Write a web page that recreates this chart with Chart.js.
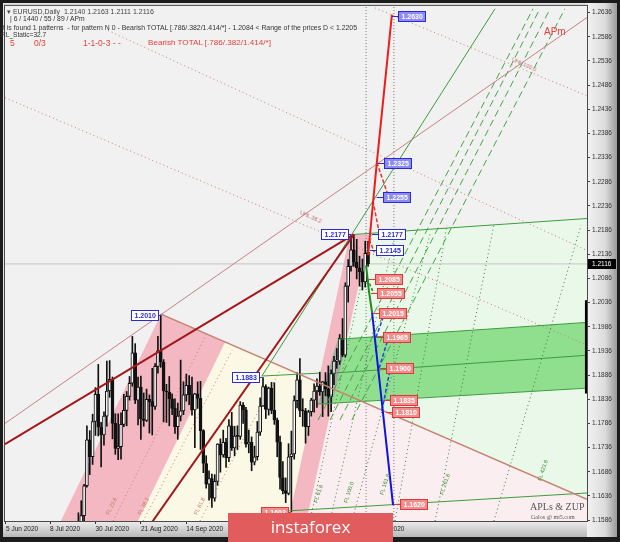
<!DOCTYPE html>
<html>
<head>
<meta charset="utf-8">
<script src="https://cdn.jsdelivr.net/npm/chart.js@4.4.0/dist/chart.umd.min.js"></script>
<style>
body { margin: 0; background: #1b1b1b; }
#wrap { position: relative; width: 620px; height: 542px; overflow: hidden; }
.t { position: absolute; white-space: nowrap; font-family: "Liberation Sans", Arial, sans-serif; line-height: 1; }
.rot { transform-origin: 0 50%; }
#logo { position: absolute; left: 228px; top: 513px; width: 165px; height: 29px; background: #e15c5c;
        color: #fff; font-family: "Open Sans", sans-serif; font-size: 17px; line-height: 28px; text-align: center; }
</style>
</head>
<body>
<div id="wrap">
<canvas id="myChart" width="620" height="542"></canvas>

<div class="t" style="left:7px;top:8px;font-size:7px;color:#444">&#9662; EURUSD,Daily&nbsp;&nbsp;1.2140 1.2163 1.2111 1.2116</div>
<div class="t" style="left:10px;top:16px;font-size:6.8px;color:#333">| 6 / 1440 / 55 / 89 / APm</div>
<div class="t" style="left:1px;top:25px;font-size:6.9px;color:#333">It is found 1 patterns&nbsp; - for pattern N 0 - Bearish TOTAL [.786/.382/1.414/*] - 1.2084 &lt; Range of the prices D &lt; 1.2205</div>
<div class="t" style="left:1px;top:32px;font-size:6.6px;color:#333">RL_Static=32.7</div>
<div class="t" style="left:10px;top:39px;font-size:8.5px;color:#e8403c">5</div>
<div class="t" style="left:34px;top:39px;font-size:8.5px;color:#e8403c">0/3</div>
<div class="t" style="left:83px;top:39px;font-size:8.5px;color:#e8403c">1-1-0-3 - -</div>
<div class="t" style="left:148px;top:39px;font-size:8.1px;color:#e8403c">Bearish TOTAL [.786/.382/1.414/*]</div>
<div class="t" style="left:544px;top:27px;font-size:10px;color:#e8403c">APm</div>

<div class="t rot" style="left:300px;top:210px;font-size:5.5px;color:#c07070;transform:rotate(24deg)">UHL 38.2</div>
<div class="t rot" style="left:512px;top:57px;font-size:5.5px;color:#c07070;transform:rotate(24deg)">UHL 100.0</div>
<div class="t rot" style="left:108px;top:512px;font-size:5.5px;color:#c07a60;transform:rotate(-64deg)">FL 23.6</div>
<div class="t rot" style="left:140px;top:512px;font-size:5.5px;color:#c07a60;transform:rotate(-64deg)">FL 38.2</div>
<div class="t rot" style="left:196px;top:512px;font-size:5.5px;color:#c07a60;transform:rotate(-64deg)">FL 61.8</div>
<div class="t rot" style="left:316px;top:500px;font-size:5.5px;color:#3b8f3b;transform:rotate(-72deg)">FL 61.8</div>
<div class="t rot" style="left:346px;top:500px;font-size:5.5px;color:#3b8f3b;transform:rotate(-72deg)">FL 100.0</div>
<div class="t rot" style="left:382px;top:492px;font-size:5.5px;color:#3b8f3b;transform:rotate(-72deg)">FL 161.8</div>
<div class="t rot" style="left:442px;top:492px;font-size:5.5px;color:#3b8f3b;transform:rotate(-72deg)">FL 261.8</div>
<div class="t rot" style="left:540px;top:478px;font-size:5.5px;color:#3b8f3b;transform:rotate(-72deg)">FL 423.6</div>

<div class="t" style="left:530px;top:502px;font-size:10px;color:#555;font-family:'Liberation Serif',serif">APLs &amp; ZUP</div>
<div class="t" style="left:531px;top:514px;font-size:6px;color:#555;font-family:'Liberation Serif',serif">Galos @ mt5.com</div>
<div id="logo">instaforex</div>
</div>

<script>
// EURUSD daily, one bar per trading day, bar 0 = 8 Jul 2020
var firstBar = 8;
var opens = [1.1427,1.1443,1.1530,1.1568,1.1595,1.1657,1.1752,1.1717,1.1790,1.1846,
             1.1778,1.1762,1.1801,1.1853,1.1877,1.1786,1.1734,1.1738,1.1784,1.1813,
             1.1842,1.1869,1.1932,1.1834,1.1861,1.1795,1.1792,1.1836,1.1831,1.1821,
             1.1904,1.1936,1.1913,1.1853,1.1851,1.1837,1.1817,1.1779,1.1801,1.1812,
             1.1845,1.1865,1.1845,1.1814,1.1847,1.1838,1.1771,1.1703,1.1660,1.1672,
             1.1631,1.1666,1.1743,1.1721,1.1747,1.1715,1.1781,1.1735,1.1760,1.1759,
             1.1824,1.1814,1.1743,1.1747,1.1706,1.1717,1.1768,1.1822,1.1862,1.1815,
             1.1859,1.1813,1.1793,1.1747,1.1674,1.1647,1.1641,1.1717,1.1723,1.1833,
             1.1876,1.1813,1.1812,1.1779,1.1810,1.1834,1.1853,1.1863,1.1851,1.1872,
             1.1857,1.1842,1.1889,1.1915,1.1915,1.1962,1.1927,1.2070,1.2111,1.2145,
             1.2120,1.2108,1.2100,1.2079,1.2140];
var highs = [1.1468,1.1540,1.1601,1.1626,1.1660,1.1781,1.1771,1.1805,1.1860,1.1908,
             1.1788,1.1810,1.1915,1.1916,1.1882,1.1806,1.1806,1.1808,1.1846,1.1852,
             1.1883,1.1966,1.1951,1.1882,1.1884,1.1849,1.1857,1.1845,1.1900,1.1910,
             1.1966,1.2011,1.1918,1.1867,1.1883,1.1847,1.1837,1.1828,1.1917,1.1872,
             1.1888,1.1885,1.1882,1.1848,1.1872,1.1873,1.1773,1.1719,1.1688,1.1681,
             1.1680,1.1744,1.1754,1.1772,1.1755,1.1794,1.1809,1.1780,1.1781,1.1831,
             1.1829,1.1819,1.1772,1.1758,1.1739,1.1790,1.1839,1.1881,1.1866,1.1861,
             1.1871,1.1870,1.1797,1.1760,1.1707,1.1673,1.1744,1.1770,1.1843,1.1891,
             1.1920,1.1837,1.1817,1.1813,1.1838,1.1868,1.1878,1.1892,1.1873,1.1891,
             1.1905,1.1897,1.1925,1.1941,1.1970,1.2003,1.2077,1.2125,1.2175,1.2177,
             1.2167,1.2132,1.2126,1.2163,1.2163];
var lows  = [1.1420,1.1422,1.1510,1.1539,1.1572,1.1654,1.1680,1.1701,1.1761,1.1760,
             1.1696,1.1741,1.1780,1.1840,1.1754,1.1722,1.1711,1.1712,1.1779,1.1781,
             1.1834,1.1863,1.1827,1.1783,1.1753,1.1780,1.1790,1.1766,1.1762,1.1815,
             1.1890,1.1902,1.1789,1.1788,1.1781,1.1804,1.1765,1.1753,1.1791,1.1804,
             1.1832,1.1825,1.1803,1.1736,1.1817,1.1732,1.1684,1.1652,1.1627,1.1612,
             1.1625,1.1658,1.1685,1.1716,1.1695,1.1707,1.1730,1.1719,1.1732,1.1753,
             1.1786,1.1737,1.1725,1.1688,1.1700,1.1710,1.1761,1.1821,1.1796,1.1803,
             1.1806,1.1784,1.1717,1.1650,1.1640,1.1622,1.1638,1.1603,1.1712,1.1818,
             1.1800,1.1780,1.1745,1.1761,1.1801,1.1809,1.1819,1.1844,1.1800,1.1843,
             1.1801,1.1810,1.1866,1.1900,1.1908,1.1924,1.1923,1.2037,1.2101,1.2111,
             1.2085,1.2070,1.2062,1.2068,1.2111];
var closes = [1.1443,1.1530,1.1568,1.1595,1.1657,1.1752,1.1717,1.1790,1.1846,1.1778,
             1.1762,1.1801,1.1853,1.1877,1.1786,1.1734,1.1738,1.1784,1.1813,1.1842,
             1.1869,1.1932,1.1834,1.1861,1.1795,1.1792,1.1836,1.1831,1.1821,1.1904,
             1.1936,1.1913,1.1853,1.1851,1.1837,1.1817,1.1779,1.1801,1.1812,1.1845,
             1.1865,1.1845,1.1814,1.1847,1.1838,1.1771,1.1703,1.1660,1.1672,1.1631,
             1.1666,1.1743,1.1721,1.1747,1.1715,1.1781,1.1735,1.1760,1.1759,1.1824,
             1.1814,1.1743,1.1747,1.1706,1.1717,1.1768,1.1822,1.1862,1.1815,1.1859,
             1.1813,1.1793,1.1747,1.1674,1.1647,1.1641,1.1717,1.1723,1.1833,1.1876,
             1.1813,1.1812,1.1779,1.1810,1.1834,1.1853,1.1863,1.1851,1.1872,1.1857,
             1.1842,1.1889,1.1915,1.1915,1.1962,1.1927,1.2070,1.2111,1.2145,1.2120,
             1.2108,1.2100,1.2079,1.2138,1.2116];

// axis ticks
var yTicks = [1.2636,1.2586,1.2536,1.2486,1.2436,1.2386,1.2336,1.2286,1.2236,1.2186,1.2136,
              1.2086,1.2036,1.1986,1.1936,1.1886,1.1836,1.1786,1.1736,1.1686,1.1636,1.1586];
var xTickBars = [-15.5, 0, 16, 32, 48, 64, 80, 96, 112];
var xTickLabels = ['5 Jun 2020','8 Jul 2020','30 Jul 2020','21 Aug 2020','14 Sep 2020',
                   '6 Oct 2020','28 Oct 2020','19 Nov 2020','11 Dec 2020'];

// shaded zones, corners as [bar, price]
var pinkBand1  = [[3.5,1.1580],[39.1,1.2012],[61.6,1.1954],[30.6,1.1580]];
var creamZone  = [[30.6,1.1580],[61.6,1.1954],[94.7,1.1869],[83.8,1.1580]];
var pinkBand2  = [[83.8,1.1580],[105.6,1.2177],[112.7,1.2177],[90.1,1.1580]];
var greenZone  = [[94.7,1.1869],[106.0,1.2177],[189.1,1.2210],[189.1,1.1629]];
var roseZone   = [[94.7,1.1869],[189.1,1.1629],[189.1,1.1580],[83.8,1.1580]];
var greenBand  = [[94.4,1.1826],[101.4,1.1960],[189.1,1.1995],[189.1,1.1859]];
var overlap    = [[94.4,1.1826],[99.3,1.1826],[104.6,1.1960],[101.4,1.1960]];

// trend lines
var thickLines = [
  [[-15.85,1.1743],[107,1.2177]],
  [[33.0,1.1557],[107,1.2177]]
];
var apmLine    = [[-15.85,1.1786],[189.1,1.2626]];
var fallLine   = [[39.1,1.2012],[189.1,1.1629]];
var greenLines = [
  [[74.6,1.1884],[156.7,1.2644]],
  [[74.6,1.1884],[94.7,1.1890]],
  [[107,1.2177],[189.1,1.2210]],
  [[101.4,1.1960],[189.1,1.1995]],
  [[99.6,1.1890],[189.1,1.1927]],
  [[94.4,1.1826],[189.1,1.1859]],
  [[84.2,1.1605],[189.1,1.1642]]
];
var greenDashed = [
  [[94.4,1.1793],[170.1,1.2644]],
  [[98.6,1.1793],[172.5,1.2644]],
  [[102.1,1.1793],[176.1,1.2644]],
  [[106.3,1.1793],[181.3,1.2644]]
];
var greenDotted = [
  [[91.5,1.1584],[113.4,1.2177]],
  [[98.6,1.1584],[121.5,1.2177]],
  [[106.3,1.1584],[133.8,1.2177]],
  [[121.5,1.1584],[139.8,1.2196]],
  [[135.6,1.1584],[156.3,1.2196]],
  [[156.3,1.1584],[187.0,1.2196]]
];
var roseDotted = [
  [[-15.85,1.2460],[189.1,1.1948]],
  [[20.4,1.2599],[189.1,1.2144]],
  [[114.4,1.2646],[189.1,1.2464]],
  [[22.2,1.1584],[55.3,1.1973]],
  [[32.8,1.1584],[64.1,1.1937]],
  [[52.8,1.1584],[81.0,1.1896]]
];
var timeLines = [
  [[111.3,1.1584],[111.3,1.2650]],
  [[121.1,1.1584],[121.1,1.2650]]
];
var edgeBar = [[188.9,1.2041],[188.9,1.1848]];

// projected pattern
var redPath     = [[112.0,1.2134],[115.1,1.2326],[120.4,1.2632]];
var redDashed   = [
  [[115.1,1.2326],[118.7,1.2264]],
  [[113.7,1.2247],[116.2,1.2173]],
  [[112.4,1.2167],[114.2,1.2140]]
];
var bluePath    = [[113.4,1.2016],[120.8,1.1617]];
var blueDashed  = [
  [[114.8,1.1964],[117.3,1.2005]],
  [[115.9,1.1900],[118.7,1.1954]],
  [[116.9,1.1813],[119.7,1.1896]]
];
var greenPath   = [[111.3,1.2113],[112.3,1.2060],[113.4,1.2016]];
var greenPathDashed = [[[111.8,1.2085],[114.0,1.2055]]];

// price labels: [bar, price, style, side]
var priceLabels = [
  [120.4,1.2630,'blueFill','right'],
  [115.5,1.2325,'blueFill','right'],
  [115.0,1.2255,'blueFill','right'],
  [113.4,1.2177,'blue','right'],
  [112.7,1.2145,'blue','right'],
  [106.0,1.2177,'blue','left'],
  [39.1,1.2010,'blue','left'],
  [74.6,1.1883,'blue','left'],
  [84.9,1.1603,'red','left'],
  [112.3,1.2085,'red','right'],
  [113.0,1.2055,'red','right'],
  [113.7,1.2015,'red','right'],
  [115.1,1.1965,'red','right'],
  [116.2,1.1900,'red','right'],
  [117.6,1.1835,'red','right'],
  [118.3,1.1810,'red','right'],
  [121.1,1.1620,'red','right']
];
var lastPrice = closes[closes.length - 1];

function pts(list) {
  return list.map(function(p){ return {x: p[0], y: p[1]}; });
}

function zone(list, color, order) {
  return { type: 'line', data: pts(list), fill: 'shape', backgroundColor: color,
           borderColor: 'rgba(0,0,0,0)', borderWidth: 1, pointRadius: 0, tension: 0, order: order };
}

function line(list, color, width, dash, order) {
  return { type: 'line', data: pts(list), fill: false, borderColor: color, borderWidth: width,
           borderDash: dash || [], pointRadius: 0, tension: 0, order: order };
}

var datasets = [];
datasets.push(zone(greenZone, '#eaf8ea', 200));
datasets.push(zone(roseZone, '#fbeef1', 200));
datasets.push(zone(creamZone, '#fbf8e5', 200));
datasets.push(zone(pinkBand1, '#f3b8c1', 190));
datasets.push(zone(pinkBand2, '#f3b8c1', 190));
datasets.push(zone(greenBand, '#8fdf8f', 180));
datasets.push(zone(overlap, '#a4a9a4', 170));

roseDotted.forEach(function(l){ datasets.push(line(l, '#c87a72', 1, [1,3], 120)); });
greenDotted.forEach(function(l){ datasets.push(line(l, '#3b7a3b', 1, [1,3], 120)); });
timeLines.forEach(function(l){ datasets.push(line(l, '#7a7a7a', 1, [1,2], 120)); });
datasets.push(line([[-15.85,lastPrice],[189.1,lastPrice]], '#c4c4c4', 1, [], 118));

// candles: bull hollow, bear filled
var wicks = [], bodies = [], bodyFill = [];
for (var i = 0; i < opens.length; i++) {
  wicks.push({x: firstBar + i, y: [lows[i], highs[i]]});
  bodies.push({x: firstBar + i, y: [opens[i], closes[i]]});
  bodyFill.push(closes[i] >= opens[i] ? '#f4f4f4' : '#111111');
}
datasets.push({ type: 'bar', data: wicks, backgroundColor: '#111111', barThickness: 1,
                grouped: false, order: 61 });
datasets.push({ type: 'bar', data: bodies, backgroundColor: bodyFill, borderColor: '#111111',
                borderWidth: 1, borderSkipped: false, barThickness: 3,
                minBarLength: 1, grouped: false, order: 60 });

datasets.push(line(apmLine, '#c68282', 1, [], 40));
datasets.push(line(fallLine, '#c4826e', 1.5, [], 40));
greenLines.forEach(function(l){ datasets.push(line(l, '#3d9d3d', 1, [], 40)); });
greenDashed.forEach(function(l){ datasets.push(line(l, '#45a545', 1, [7,4], 40)); });
thickLines.forEach(function(l){ datasets.push(line(l, '#a3171b', 2, [], 30)); });
datasets.push(line(edgeBar, '#000000', 3, [], 30));

datasets.push(line(greenPath, '#1c8c1c', 2, [], 10));
greenPathDashed.forEach(function(l){ datasets.push(line(l, '#1c8c1c', 1.5, [3,2], 10)); });
datasets.push(line(redPath, '#ee1d1d', 2, [], 10));
redDashed.forEach(function(l){ datasets.push(line(l, '#e83333', 1.5, [4,2], 10)); });
datasets.push(line(bluePath, '#1212e0', 2, [], 10));
blueDashed.forEach(function(l){ datasets.push(line(l, '#2244e6', 1.5, [4,2], 10)); });

var framePlugin = {
  id: 'frame',
  beforeDraw: function(chart) {
    var ctx = chart.ctx, a = chart.chartArea;
    ctx.save();
    ctx.fillStyle = '#1c1c1c';
    ctx.fillRect(0, 0, chart.width, chart.height);
    ctx.fillStyle = '#e4e4e4';
    ctx.fillRect(3, 3, 614, 534);
    var g = ctx.createLinearGradient(a.right, 0, 617, 0);
    g.addColorStop(0, '#f2f2f2');
    g.addColorStop(0.6, '#dcdcdc');
    g.addColorStop(1, '#9a9a9a');
    ctx.fillStyle = g;
    ctx.fillRect(a.right, 3, 617 - a.right, 534);
    var g2 = ctx.createLinearGradient(0, a.bottom, 0, 537);
    g2.addColorStop(0, '#eeeeee');
    g2.addColorStop(1, '#b8b8b8');
    ctx.fillStyle = g2;
    ctx.fillRect(3, a.bottom, a.right - 3, 537 - a.bottom);
    ctx.fillStyle = '#f1f1f1';
    ctx.fillRect(a.left, a.top, a.right - a.left, a.bottom - a.top);
    ctx.restore();
  },
  afterDraw: function(chart) {
    var ctx = chart.ctx, a = chart.chartArea, ys = chart.scales.y;
    ctx.save();
    ctx.strokeStyle = '#4a4a4a';
    ctx.lineWidth = 1;
    ctx.strokeRect(a.left - 0.5, a.top - 0.5, a.right - a.left + 1, a.bottom - a.top + 1);
    var py = Math.round(ys.getPixelForValue(lastPrice));
    ctx.fillStyle = '#000';
    ctx.fillRect(a.right + 1, py - 5, 28, 10);
    ctx.fillStyle = '#fff';
    ctx.font = '6.5px "Liberation Sans", Arial';
    ctx.textBaseline = 'middle';
    ctx.fillText(lastPrice.toFixed(4), a.right + 5, py);
    ctx.restore();
  }
};

var labelStyles = {
  blue:     { fill: '#ffffff', stroke: '#2b2bd6', text: '#2b2bd6' },
  blueFill: { fill: '#8c8cf2', stroke: '#2b2bd6', text: '#ffffff' },
  red:      { fill: '#f08d8d', stroke: '#db3a3a', text: '#ffffff' }
};

var labelPlugin = {
  id: 'priceLabels',
  afterDatasetsDraw: function(chart) {
    var ctx = chart.ctx, xs = chart.scales.x, ys = chart.scales.y;
    ctx.save();
    ctx.font = 'bold 7px "Liberation Sans", Arial';
    ctx.textBaseline = 'middle';
    priceLabels.forEach(function(l) {
      var st = labelStyles[l[2]];
      var px = xs.getPixelForValue(l[0]), py = Math.round(ys.getPixelForValue(l[1])) + 0.5;
      var txt = l[1].toFixed(4);
      var w = Math.ceil(ctx.measureText(txt).width) + 5, h = 10;
      var bx = l[3] === 'left' ? Math.round(px - 3 - w) + 0.5 : Math.round(px + 6) + 0.5;
      ctx.strokeStyle = st.stroke;
      ctx.lineWidth = 1;
      ctx.beginPath();
      if (l[3] === 'left') { ctx.moveTo(bx + w, py); ctx.lineTo(px, py); }
      else { ctx.moveTo(px, py); ctx.lineTo(bx, py); }
      ctx.stroke();
      ctx.fillStyle = st.fill;
      ctx.fillRect(bx, py - h / 2, w, h);
      ctx.strokeRect(bx, py - h / 2, w, h);
      ctx.fillStyle = st.text;
      ctx.fillText(txt, bx + 3, py + 0.5);
    });
    ctx.restore();
  }
};

var ctx = document.getElementById('myChart').getContext('2d');
var myChart = new Chart(ctx, {
  type: 'bar',
  data: { datasets: datasets },
  options: {
    responsive: false,
    devicePixelRatio: 1,
    animation: false,
    events: [],
    layout: { padding: { left: 5, top: 5, right: 0, bottom: 4 } },
    plugins: { legend: { display: false }, tooltip: { enabled: false } },
    scales: {
      x: {
        type: 'linear', min: -15.85, max: 189.1, offset: false,
        grid: { drawOnChartArea: false, drawTicks: true, tickLength: 3, color: '#333', offset: false },
        border: { display: false },
        afterFit: function(scale) { scale.height = 17; },
        afterBuildTicks: function(scale) {
          scale.ticks = xTickBars.map(function(v){ return {value: v}; });
        },
        ticks: {
          autoSkip: false, maxRotation: 0, align: 'start', padding: 1,
          color: '#222', font: { size: 6.5, family: '"Liberation Sans", Arial' },
          callback: function(v, i) { return xTickLabels[i]; }
        }
      },
      y: {
        type: 'linear', position: 'right', min: 1.1584, max: 1.2650,
        grid: { drawOnChartArea: false, drawTicks: true, tickLength: 3, color: '#444' },
        border: { display: false },
        afterFit: function(scale) { scale.width = 33; },
        afterBuildTicks: function(scale) {
          scale.ticks = yTicks.map(function(v){ return {value: v}; });
        },
        ticks: {
          padding: 2, color: '#333', font: { size: 6.5, family: '"Liberation Sans", Arial' },
          callback: function(v) { return Number(v).toFixed(4); }
        }
      }
    }
  },
  plugins: [framePlugin, labelPlugin]
});
</script>
</body>
</html>
